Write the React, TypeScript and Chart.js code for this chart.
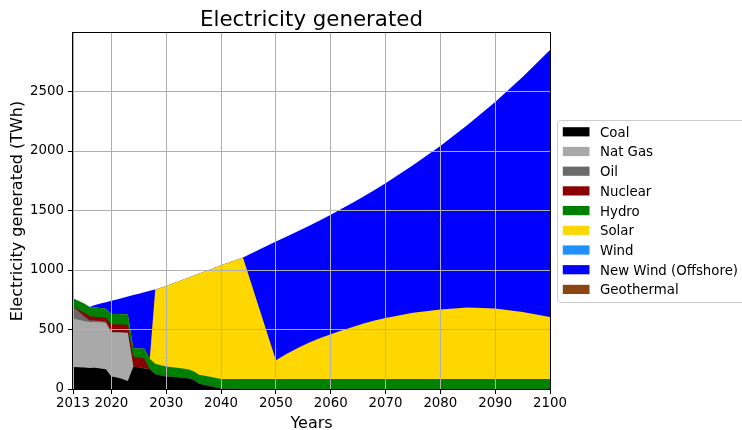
import React, { useEffect, useRef } from "react";
import { Chart, registerables } from "chart.js";

Chart.register(...registerables);

const FONT = '"DejaVu Sans", "Liberation Sans", sans-serif';

const years = [
  2013, 2014, 2015, 2016, 2017, 2018, 2019, 2020, 2021, 2022,
  2023, 2024, 2025, 2026, 2027, 2028, 2029, 2030, 2032, 2034,
  2035, 2036, 2038, 2040, 2044, 2050, 2052, 2054, 2056, 2058,
  2060, 2062, 2064, 2066, 2068, 2070, 2075, 2080, 2085, 2090,
  2095, 2100,
];

const coal = [
  184, 183, 180, 176, 178, 172, 165, 106, 97, 83,
  67, 188, 182, 172, 165, 123, 114, 106, 98, 90,
  75, 45, 24, 3, 0, 0, 0, 0, 0, 0,
  0, 0, 0, 0, 0, 0, 0, 0, 0, 0,
  0, 0,
];
const natGas = [
  408, 400, 392, 387, 385, 388, 390, 368, 377, 389,
  403, 0, 0, 0, 0, 0, 0, 0, 0, 0,
  0, 0, 0, 0, 0, 0, 0, 0, 0, 0,
  0, 0, 0, 0, 0, 0, 0, 0, 0, 0,
  0, 0,
];
const oil = [
  98, 70, 42, 14, 12, 12, 12, 5, 5, 5,
  5, 0, 0, 0, 0, 0, 0, 0, 0, 0,
  0, 0, 0, 0, 0, 0, 0, 0, 0, 0,
  0, 0, 0, 0, 0, 0, 0, 0, 0, 0,
  0, 0,
];
const nuclear = [
  0, 14, 28, 34, 33, 32, 32, 66, 66, 66,
  66, 80, 82, 85, 0, 0, 0, 0, 0, 0,
  0, 0, 0, 0, 0, 0, 0, 0, 0, 0,
  0, 0, 0, 0, 0, 0, 0, 0, 0, 0,
  0, 0,
];
const hydro = [
  71, 72, 76, 79, 78, 77, 76, 85, 85, 85,
  85, 72, 76, 82, 90, 90, 86, 84, 80, 76,
  75, 74, 78, 82, 84, 84, 84, 84, 84, 84,
  84, 84, 84, 84, 84, 84, 84, 84, 84, 84,
  84, 84,
];
const solar = [
  0, 0, 0, 0, 0, 0, 0, 0, 0, 0,
  0, 0, 0, 0, 0, 623, 652, 678, 723, 770,
  803, 851, 903, 955, 1021, 157, 212, 261, 304, 342,
  376, 408, 438, 466, 491, 513, 556, 584, 601, 592,
  564, 522,
];
const wind = [
  0, 0, 0, 0, 0, 0, 0, 0, 0, 0,
  0, 0, 0, 0, 0, 0, 0, 0, 0, 0,
  0, 0, 0, 0, 0, 0, 0, 0, 0, 0,
  0, 0, 0, 0, 0, 0, 0, 0, 0, 0,
  0, 0,
];
const newWind = [
  0, 0, 0, 0, 20, 37, 54, 111, 123, 137,
  151, 449, 461, 474, 570, 0, 0, 0, 0, 0,
  0, 0, 0, 0, 0, 999, 986, 980, 982, 990,
  1004, 1022, 1043, 1068, 1098, 1133, 1240, 1375, 1535, 1736,
  1974, 2244,
];
const geothermal = [
  0, 0, 0, 0, 0, 0, 0, 0, 0, 0,
  0, 0, 0, 0, 0, 0, 0, 0, 0, 0,
  0, 0, 0, 0, 0, 0, 0, 0, 0, 0,
  0, 0, 0, 0, 0, 0, 0, 0, 0, 0,
  0, 0,
];

const seriesNames = ["Coal", "Nat Gas", "Oil", "Nuclear", "Hydro", "Solar", "Wind", "New Wind (Offshore)", "Geothermal"];
const seriesColors = ["#000000", "#a9a9a9", "#696969", "#8b0000", "#008000", "#ffd700", "#1e90ff", "#0000ff", "#8b4513"];
const seriesValues = [coal, natGas, oil, nuclear, hydro, solar, wind, newWind, geothermal];

const xTicks = [2013, 2020, 2030, 2040, 2050, 2060, 2070, 2080, 2090, 2100];
const yTicks = [0, 500, 1000, 1500, 2000, 2500];
const xMin = 2013;
const xMax = 2100;
const yMax = 2992;

const titleText = "Electricity generated";
const xTitle = "Years";
const yTitle = "Electricity generated (TWh)";

const overlayPlugin = {
  id: "overlay",
  afterDraw(chart: any) {
    const ctx: CanvasRenderingContext2D = chart.ctx;
    const a = chart.chartArea;
    ctx.save();
    // axes frame
    ctx.strokeStyle = "#000";
    ctx.lineWidth = 1;
    const l = Math.round(a.left) - 0.5;
    const t = Math.round(a.top) - 0.5;
    const r = Math.round(a.right) + 0.5;
    const b = Math.round(a.bottom) + 0.5;
    ctx.strokeRect(l, t, r - l, b - t);

    // title
    ctx.fillStyle = "#000";
    ctx.font = `21.33px ${FONT}`;
    ctx.textAlign = "center";
    ctx.textBaseline = "alphabetic";
    ctx.fillText(titleText, (a.left + a.right) / 2, 26);

    // x title
    ctx.font = `16px ${FONT}`;
    ctx.fillText(xTitle, (a.left + a.right) / 2, 428);

    // y title
    ctx.save();
    ctx.translate(21.5, (a.top + a.bottom) / 2);
    ctx.rotate(-Math.PI / 2);
    ctx.fillText(yTitle, 0, 0);
    ctx.restore();

    // legend
    const lx = 557.5, ly = 120.5, lw = 190, lh = 182, rad = 3;
    ctx.beginPath();
    ctx.moveTo(lx + rad, ly);
    ctx.lineTo(lx + lw - rad, ly);
    ctx.arcTo(lx + lw, ly, lx + lw, ly + rad, rad);
    ctx.lineTo(lx + lw, ly + lh - rad);
    ctx.arcTo(lx + lw, ly + lh, lx + lw - rad, ly + lh, rad);
    ctx.lineTo(lx + rad, ly + lh);
    ctx.arcTo(lx, ly + lh, lx, ly + lh - rad, rad);
    ctx.lineTo(lx, ly + rad);
    ctx.arcTo(lx, ly, lx + rad, ly, rad);
    ctx.closePath();
    ctx.fillStyle = "rgba(255,255,255,0.8)";
    ctx.fill();
    ctx.strokeStyle = "#cccccc";
    ctx.stroke();

    ctx.font = `13.33px ${FONT}`;
    ctx.textAlign = "left";
    chart.data.datasets.forEach((ds: any, i: number) => {
      const cy = 131.8 + i * 19.7;
      ctx.fillStyle = ds.backgroundColor;
      ctx.fillRect(562.8, cy - 4.6, 26.7, 9.2);
      ctx.fillStyle = "#000";
      ctx.fillText(ds.label, 600, cy + 4.9);
    });
    ctx.restore();
  },
};

export default function App() {
  const ref = useRef<HTMLCanvasElement>(null);

  useEffect(() => {
    if (!ref.current) return;
    const datasets = seriesValues.map((vals, i) => ({
      label: seriesNames[i],
      data: years.map((yr, j) => ({ x: yr, y: vals[j] })),
      backgroundColor: seriesColors[i],
      borderColor: "rgba(0,0,0,0)",
      borderWidth: 0,
      pointRadius: 0,
      pointHoverRadius: 0,
      tension: 0,
      fill: vals.some((v) => v > 0) ? "origin" : "-1",
    }));

    const chart = new Chart(ref.current, {
      type: "line",
      data: { datasets } as any,
      options: {
        animation: false,
        responsive: false,
        maintainAspectRatio: false,
        devicePixelRatio: 1,
        events: [],
        layout: { padding: { left: 0, top: 33, right: 192, bottom: 0 } },
        plugins: {
          legend: { display: false },
          title: { display: false },
          tooltip: { enabled: false },
        },
        scales: {
          x: {
            type: "linear",
            min: xMin,
            max: xMax,
            afterBuildTicks: (s: any) => {
              s.ticks = xTicks.map((v) => ({ value: v }));
            },
            afterFit: (s: any) => {
              s.height = 41;
            },
            ticks: {
              color: "#000",
              font: { family: FONT, size: 13.33 },
              padding: 2,
              autoSkip: false,
              maxRotation: 0,
              callback: (v: any) => String(v),
            },
            grid: { color: "#b0b0b0", lineWidth: 1, z: 1, tickLength: 5, tickColor: "#000", tickWidth: 1 },
            border: { display: false },
          },
          y: {
            type: "linear",
            stacked: true,
            min: 0,
            max: yMax,
            afterBuildTicks: (s: any) => {
              s.ticks = yTicks.map((v) => ({ value: v }));
            },
            afterFit: (s: any) => {
              s.width = 73;
            },
            ticks: {
              color: "#000",
              font: { family: FONT, size: 13.33 },
              padding: 4,
              callback: (v: any) => String(v),
            },
            grid: { color: "#b0b0b0", lineWidth: 1, z: 1, tickLength: 5, tickColor: "#000", tickWidth: 1 },
            border: { display: false },
          },
        },
      } as any,
      plugins: [overlayPlugin],
    });
    return () => chart.destroy();
  }, []);

  return (
    <div style={{ position: "fixed", left: 0, top: 0, width: 742, height: 430, background: "#fff" }}>
      <canvas ref={ref} width={742} height={430} style={{ display: "block", width: 742, height: 430 }} />
    </div>
  );
}
